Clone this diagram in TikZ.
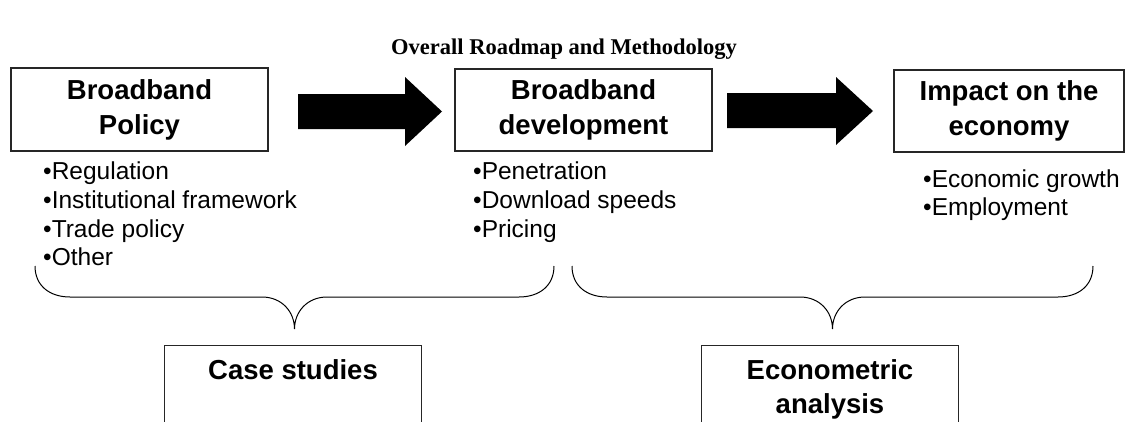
\documentclass[tikz,border=0pt]{standalone}
\usepackage{fontspec}
\setmainfont{Liberation Serif}
\newfontfamily\arialfont{Liberation Sans}
\begin{document}
\begin{tikzpicture}[x=1pt,y=-1pt,
  box/.style={draw=black!85, line width=1.1pt, fill=white, align=center, inner sep=0pt,
    font=\arialfont\bfseries\fontsize{27.5}{35}\selectfont},
  boxtext/.style={anchor=base, inner sep=0pt, font=\arialfont\bfseries\fontsize{27.5}{35}\selectfont},
  item/.style={anchor=base west, inner sep=0pt, font=\arialfont\fontsize{24.5}{29}\selectfont},
  brace/.style={draw=black, line width=1pt},
  blockarrow/.style={fill=black}]
\clip (0,0) rectangle (1125,421);

% title
\node[anchor=base, inner sep=0pt, font=\bfseries\fontsize{22.5}{27}\selectfont] (title) at (564,54)
  {Overall Roadmap and Methodology};

% the three stages
\node[box, minimum width=257pt, minimum height=83pt] (pol) at (139.5,109.5) {Broadband\\Policy};
\node[box, minimum width=257pt, minimum height=82pt] (dev) at (583.5,110) {Broadband\\development};
\node[box, minimum width=230pt, minimum height=82pt] (imp) at (1009,111) {Impact on the\\economy};

% block arrows between the stages
\fill[blockarrow] (298,94) -- (405,94) -- (405,77) -- (442,111.5) -- (405,146) -- (405,129) -- (298,129) -- cycle;
\fill[blockarrow] (727,93) -- (836,93) -- (836,77) -- (873,111) -- (836,145) -- (836,128) -- (727,128) -- cycle;

% bullet lists
\node[item] (p1) at (43,179) {•Regulation};
\node[item] (p2) at (43,208) {•Institutional framework};
\node[item] (p3) at (43,237) {•Trade policy};
\node[item] (p4) at (43,265) {•Other};
\node[item] (d1) at (473,179) {•Penetration};
\node[item] (d2) at (473,208) {•Download speeds};
\node[item] (d3) at (473,237) {•Pricing};
\node[item] (i1) at (923,187) {•Economic growth};
\node[item] (i2) at (923,215) {•Employment};

% braces grouping the stages
\draw[brace] (35,266) .. controls (35,286) and (50,297) .. (70,297) -- (262,297)
  .. controls (282,297) and (294.5,312) .. (294.5,329)
  .. controls (294.5,312) and (307,297) .. (327,297) -- (519,297)
  .. controls (539,297) and (554,286) .. (554,266);
\draw[brace] (572,266) .. controls (572,286) and (587,297) .. (607,297) -- (800,297)
  .. controls (820,297) and (832.5,312) .. (832.5,329)
  .. controls (832.5,312) and (845,297) .. (865,297) -- (1058,297)
  .. controls (1078,297) and (1093,286) .. (1093,266);

% methods
\node[box, minimum width=257pt, minimum height=120pt, anchor=north] (cs) at (293,345) {};
\node[box, minimum width=257pt, minimum height=120pt, anchor=north] (ea) at (830,345) {};
\node[boxtext] (cst) at (293,379) {Case studies};
\node[boxtext] (eat1) at (830,379) {Econometric};
\node[boxtext] (eat2) at (830,413) {analysis};
\end{tikzpicture}
\end{document}
